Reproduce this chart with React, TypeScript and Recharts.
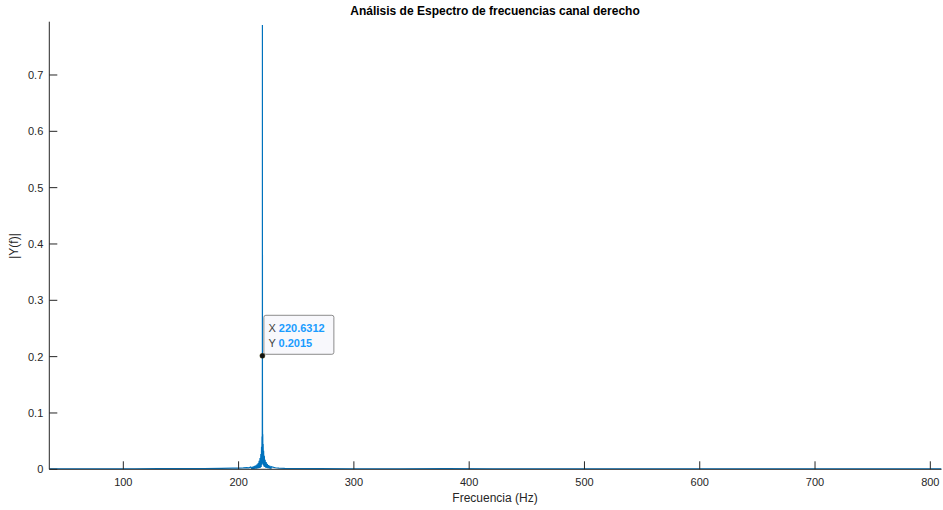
import { LineChart, Line, XAxis, YAxis, ReferenceDot } from "recharts";

// spectrum samples (Hz, |Y(f)|)
const freqHz = [
  35.8, 50, 70, 90, 110, 130, 150, 170, 185, 195, 200, 204, 207, 209, 210.5,
  211.5, 212, 212.4, 213, 213.4, 214, 214.4, 215, 215.4, 216, 216.4, 217, 217.3,
  217.8, 218.1, 218.6, 218.9, 219.3, 219.6, 219.9, 220.1, 220.3, 220.45, 220.55,
  220.6312, 220.66, 220.69, 220.75, 220.85, 220.95, 221.1, 221.3, 221.5, 221.7,
  222.0, 222.3, 222.7, 223.0, 223.5, 223.9, 224.5, 224.9, 225.6, 226.0, 226.8,
  227.2, 228.0, 228.5, 229.5, 230.5, 232, 235, 240, 250, 270, 300, 340, 380, 420,
  460, 500, 540, 580, 620, 660, 700, 740, 780, 809.7,
];
const magnitude = [
  0.001, 0.0008, 0.001, 0.0009, 0.001, 0.0012, 0.0011, 0.0014, 0.0016, 0.002, 0.0022, 0.0025, 0.003, 0.0025, 0.004,
  0.001, 0.0045, 0.0008, 0.005, 0.001, 0.006, 0.0012, 0.007, 0.0012, 0.009, 0.0015, 0.011, 0.002,
  0.015, 0.0025, 0.02, 0.003, 0.027, 0.004, 0.04, 0.008, 0.058, 0.015, 0.07,
  0.2015, 0.7887, 0.16, 0.07, 0.03, 0.062, 0.01, 0.045, 0.007, 0.033,
  0.005, 0.024, 0.004, 0.017, 0.003, 0.013, 0.0025, 0.0095, 0.0018, 0.0075, 0.0014,
  0.006, 0.0012, 0.0045, 0.004, 0.0034, 0.0028, 0.0022, 0.0017, 0.0014, 0.0012, 0.001, 0.0009, 0.0011, 0.0008,
  0.001, 0.0009, 0.0008, 0.001, 0.0009, 0.0008, 0.0009, 0.0008, 0.0009, 0.0008,
];
const xTicks = [100, 200, 300, 400, 500, 600, 700, 800];
const yTicks = [0, 0.1, 0.2, 0.3, 0.4, 0.5, 0.6, 0.7];
const tipPoint = { x: 220.6312, y: 0.2015 };

const data = freqHz.map((f, i) => ({ f, y: magnitude[i] }));

const AXIS = "#262626";
const FONT = "'Liberation Sans', Arial, Helvetica, sans-serif";

const BottomTick = ({ x, y, payload }: any) => (
  <g>
    <line x1={x} y1={y} x2={x} y2={y - 8} stroke={AXIS} strokeWidth={1} />
    <text x={x} y={y + 17} textAnchor="middle" fontSize={11} fill={AXIS} fontFamily={FONT}>
      {payload.value}
    </text>
  </g>
);

const TopTick = ({ x, y }: any) => <line x1={x} y1={y} x2={x} y2={y + 8} stroke={AXIS} strokeWidth={1} />;

const LeftTick = ({ x, y, payload }: any) => (
  <g>
    <line x1={x} y1={y} x2={x + 8} y2={y} stroke={AXIS} strokeWidth={1} />
    <text x={x - 6} y={y + 4} textAnchor="end" fontSize={11} fill={AXIS} fontFamily={FONT}>
      {payload.value}
    </text>
  </g>
);

const RightTick = ({ x, y }: any) => <line x1={x} y1={y} x2={x - 8} y2={y} stroke={AXIS} strokeWidth={1} />;

const DataTip = ({ cx, cy }: any) => (
  <g fontFamily={FONT} fontSize={11}>
    <rect x={cx + 1.5} y={cy - 40.5} width={70} height={39} rx={2} fill="#f8f8fc" stroke="#8c8c8c" strokeWidth={1} />
    <text x={cx + 6} y={cy - 24} fill="#404040">
      X <tspan fill="#1a9cff" fontWeight="bold">{tipPoint.x}</tspan>
    </text>
    <text x={cx + 6} y={cy - 9} fill="#404040">
      Y <tspan fill="#1a9cff" fontWeight="bold">{tipPoint.y}</tspan>
    </text>
    <circle cx={cx} cy={cy} r={2.5} fill="#111" stroke="#333300" strokeWidth={0.5} />
  </g>
);

export default function App() {
  return (
    <div style={{ position: "absolute", left: 0, top: 0, width: 943, height: 510, background: "#fff" }}>
      <LineChart width={943} height={510} data={data} margin={{ top: 21.7, right: 1.5, left: 0, bottom: 0 }}>
        <text x={495} y={15} textAnchor="middle" fontSize={12} fontWeight="bold" fill="#000" fontFamily={FONT}>
          Análisis de Espectro de frecuencias canal derecho
        </text>
        <text
          x={18}
          y={246}
          transform="rotate(-90 18 246)"
          textAnchor="middle"
          fontSize={12}
          fill={AXIS}
          fontFamily={FONT}
        >
          |Y(f)|
        </text>
        <text x={495} y={502} textAnchor="middle" fontSize={12} fill={AXIS} fontFamily={FONT}>
          Frecuencia (Hz)
        </text>
        <XAxis
          dataKey="f"
          type="number"
          domain={[35.8, 809.7]}
          ticks={xTicks}
          allowDataOverflow
          height={40.7}
          tickSize={0}
          tickMargin={0}
          tickLine={false}
          axisLine={{ stroke: AXIS }}
          tick={<BottomTick />}
          interval={0}
        />
        <XAxis
          xAxisId="top"
          orientation="top"
          dataKey="f"
          type="number"
          domain={[35.8, 809.7]}
          ticks={xTicks}
          allowDataOverflow
          height={0}
          tickSize={0}
          tickMargin={0}
          tickLine={false}
          axisLine={{ stroke: AXIS }}
          tick={<TopTick />}
          interval={0}
        />
        <YAxis
          type="number"
          domain={[0, 0.7946]}
          ticks={yTicks}
          allowDataOverflow
          width={49.3}
          tickSize={0}
          tickMargin={0}
          tickLine={false}
          axisLine={{ stroke: AXIS }}
          tick={<LeftTick />}
          interval={0}
        />
        <YAxis
          yAxisId="right"
          orientation="right"
          type="number"
          domain={[0, 0.7946]}
          ticks={yTicks}
          allowDataOverflow
          width={0}
          tickSize={0}
          tickMargin={0}
          tickLine={false}
          axisLine={{ stroke: AXIS }}
          tick={<RightTick />}
          interval={0}
        />
        <Line
          dataKey="y"
          type="linear"
          stroke="#0072BD"
          strokeWidth={1.2}
          dot={false}
          isAnimationActive={false}
        />
        <ReferenceDot x={tipPoint.x} y={tipPoint.y} r={2.5} shape={<DataTip />} />
      </LineChart>
    </div>
  );
}
